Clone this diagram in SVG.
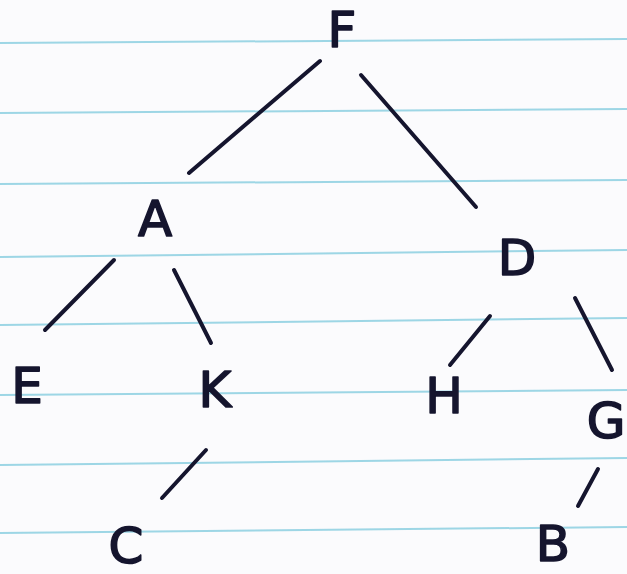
<svg xmlns="http://www.w3.org/2000/svg" width="627" height="574" viewBox="0 0 627 574">
<style>
.ruled{stroke:#8ccfe0;stroke-width:2;fill:none;opacity:0.85}
.edge{stroke:#15152e;stroke-width:4;stroke-linecap:round;fill:none}
.lbl{font-family:"DejaVu Sans","Liberation Sans",sans-serif;font-size:50px;fill:#15152e;stroke:#15152e;stroke-width:1.6;stroke-linejoin:round;text-anchor:middle}
</style>
<rect x="0" y="0" width="627" height="574" fill="#fbfbfd"/>
<g id="paper">
<line class="ruled" x1="0" y1="43" x2="627" y2="39"/>
<line class="ruled" x1="0" y1="113" x2="627" y2="109"/>
<line class="ruled" x1="0" y1="184" x2="627" y2="180"/>
<line class="ruled" x1="0" y1="257" x2="627" y2="250"/>
<line class="ruled" x1="0" y1="325" x2="627" y2="318"/>
<line class="ruled" x1="0" y1="395" x2="627" y2="390"/>
<line class="ruled" x1="0" y1="465" x2="627" y2="458"/>
<line class="ruled" x1="0" y1="533" x2="627" y2="527"/>
</g>
<g id="connectors">
<line class="edge" x1="320" y1="61" x2="189" y2="173"/>
<line class="edge" x1="361" y1="75" x2="476" y2="207"/>
<line class="edge" x1="114" y1="260" x2="45" y2="330"/>
<line class="edge" x1="174" y1="270" x2="211" y2="343"/>
<line class="edge" x1="490" y1="316" x2="450" y2="365"/>
<line class="edge" x1="575" y1="298" x2="612" y2="370"/>
<line class="edge" x1="206" y1="450" x2="162" y2="498"/>
<line class="edge" x1="598" y1="469" x2="578" y2="506"/>
</g>
<g id="node-F"><text class="lbl" x="342" y="47">F</text></g>
<g id="node-A"><text class="lbl" x="155" y="236">A</text></g>
<g id="node-D"><text class="lbl" x="517" y="275">D</text></g>
<g id="node-E"><text class="lbl" x="27" y="403">E</text></g>
<g id="node-K"><text class="lbl" x="215" y="407">K</text></g>
<g id="node-H"><text class="lbl" x="444" y="413">H</text></g>
<g id="node-G"><text class="lbl" x="606" y="438">G</text></g>
<g id="node-C"><text class="lbl" x="126" y="563">C</text></g>
<g id="node-B"><text class="lbl" x="553" y="561">B</text></g>
</svg>
